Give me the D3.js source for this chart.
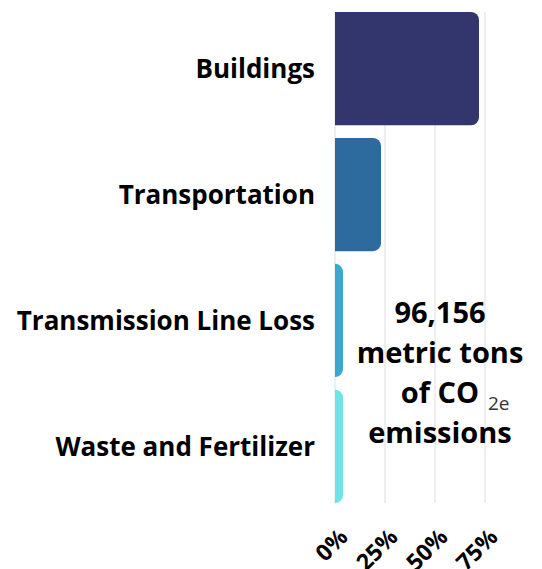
<!DOCTYPE html>
<html>
<head>
<meta charset="utf-8">
<script src="https://cdn.jsdelivr.net/npm/d3@7"></script>
<style>
  html, body { margin: 0; padding: 0; background: #fff; }
  svg { display: block; font-family: "Open Sans", sans-serif; }
</style>
</head>
<body>
<svg id="chart" width="542" height="569"></svg>
<script>
// Emission sources and their share of total emissions
const categories = ["Buildings", "Transportation", "Transmission Line Loss", "Waste and Fertilizer"];
const shares = [0.72, 0.23, 0.04, 0.04];
const barColors = ["#32366d", "#2d6b9f", "#3aa9d1", "#6de4e8"];
const tickValues = [0, 0.25, 0.5, 0.75];
const totalLines = ["96,156", "metric tons", "of CO", "emissions"];
const totalSub = "2e";

const svg = d3.select("#chart");

const plotLeft = 335, plotRight = 535, plotTop = 12, plotBottom = 503;

const x = d3.scaleLinear().domain([0, 1]).range([plotLeft, plotRight]);
const y = d3.scaleBand().domain(categories).range([plotTop, plotBottom]).paddingInner(0.1).paddingOuter(0);

// vertical gridlines
svg.append("g")
  .selectAll("line")
  .data(tickValues)
  .join("line")
  .attr("x1", d => x(d)).attr("x2", d => x(d))
  .attr("y1", plotTop).attr("y2", plotBottom)
  .attr("stroke", "#dddddd")
  .attr("stroke-width", 1);

// bars with rounded right ends
const radius = 8;
function barPath(x0, x1, y0, h) {
  const w = x1 - x0;
  const rr = Math.min(radius, w, h / 2);
  return `M${x0},${y0}H${x1 - rr}A${rr},${rr} 0 0 1 ${x1},${y0 + rr}` +
         `V${y0 + h - rr}A${rr},${rr} 0 0 1 ${x1 - rr},${y0 + h}H${x0}Z`;
}

svg.append("g")
  .selectAll("path")
  .data(categories)
  .join("path")
  .attr("d", (c, i) => barPath(x(0), x(shares[i]), y(c), y.bandwidth()))
  .attr("fill", (c, i) => barColors[i]);

// category labels
const yAxis = d3.axisLeft(y).tickSize(0).tickPadding(20);
const gy = svg.append("g").attr("transform", `translate(${plotLeft},0)`).call(yAxis);
gy.select(".domain").remove();
gy.selectAll("text")
  .attr("fill", "#000")
  .attr("dy", "0.36em")
  .style("font-family", "'Open Sans', sans-serif")
  .style("font-weight", "700")
  .style("font-size", "26px");

// percentage axis with rotated labels
const xAxis = d3.axisBottom(x).tickValues(tickValues).tickFormat(d3.format(".0%")).tickSize(0);
const gx = svg.append("g").attr("transform", `translate(0,${plotBottom})`).call(xAxis);
gx.select(".domain").remove();
gx.selectAll("text")
  .attr("fill", "#000")
  .attr("x", 0).attr("y", 0).attr("dy", "0.35em")
  .attr("transform", "translate(8,30) rotate(-45)")
  .style("text-anchor", "end")
  .style("font-family", "'Open Sans', sans-serif")
  .style("font-weight", "700")
  .style("font-size", "23px");

// total emissions callout
const cx = 440;
const callout = svg.append("g");
callout.selectAll("text")
  .data(totalLines)
  .join("text")
  .attr("x", cx)
  .attr("y", (d, i) => 323 + i * 40)
  .attr("text-anchor", "middle")
  .attr("fill", "#000")
  .style("font-weight", "700")
  .style("font-size", "29px")
  .text(d => d);

callout.append("text")
  .attr("x", 488)
  .attr("y", 410)
  .attr("fill", "#333")
  .style("font-weight", "400")
  .style("font-size", "19px")
  .text(totalSub);
</script>
</body>
</html>
